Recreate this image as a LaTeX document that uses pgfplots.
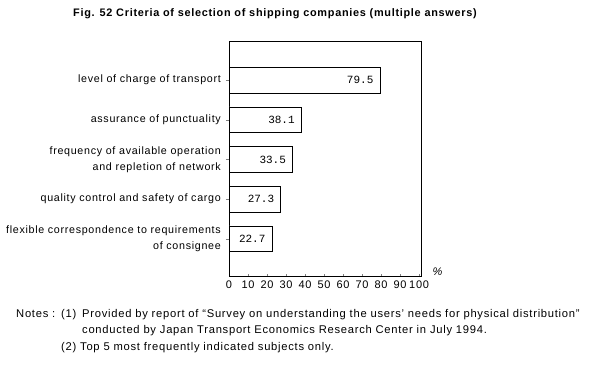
\documentclass[border=0pt]{standalone}
\usepackage{fontspec}
\setmainfont{Liberation Sans}[LetterSpace=6.5]
\setmonofont{Liberation Mono}
\usepackage{pgfplots}
\pgfplotsset{compat=1.18}
\begin{document}
\begin{tikzpicture}
\useasboundingbox (0pt,0pt) rectangle (591pt,364pt);
\node[anchor=west,inner sep=0pt,font=\fontsize{10.9}{13}\selectfont\bfseries] at (73pt,350pt) {Fig. 52 Criteria of selection of shipping companies (multiple answers)};
\begin{axis}[
  at={(229pt,87pt)}, anchor=south west,
  scale only axis, width=192pt, height=235pt,
  xbar, bar width=0.65,
  xmin=0, xmax=101, ymin=0.04, ymax=5.96,
  axis line style={line width=1pt},
  ytick={1,2,3,4,5},
  yticklabels={{flexible correspondence to requirements\\of consignee},
               {quality control and safety of cargo},
               {frequency of available operation\\and repletion of network},
               {assurance of punctuality},
               {level of charge of transport}},
  yticklabel style={align=right, font=\fontsize{10.7}{16}\selectfont, inner sep=0pt, xshift=-5pt},
  ytick pos=left, ytick align=outside, major tick length=3pt,
  xtick={0,10,...,100},
  xtick pos=bottom, xtick align=inside,
  xticklabel style={font=\fontsize{11}{12}\selectfont},
  /pgf/number format/assume math mode=true,
  point meta=x,
  nodes near coords,
  nodes near coords style={anchor=east, xshift=-3pt, font=\ttfamily\fontsize{11}{12}\selectfont,
    /pgf/number format/.cd, fixed, fixed zerofill, precision=1, assume math mode=true},
]
\addplot[draw=black, line width=0.8pt, fill=white] coordinates {(79.5,5) (38.1,4) (33.5,3) (27.3,2) (22.7,1)};
\end{axis}
\node[anchor=west,font=\fontsize{11}{12}\selectfont\itshape] at (429pt,92pt) {\%};
\begin{scope}[every node/.style={anchor=base west, inner sep=0pt, font=\fontsize{11.2}{12}\selectfont}]
\node at (16pt,47pt) {Notes :};
\node at (61pt,47pt) {(1)};
\node at (82pt,47pt) {Provided by report of ``Survey on understanding the users' needs for physical distribution''};
\node at (82pt,31pt) {conducted by Japan Transport Economics Research Center in July 1994.};
\node at (61pt,14pt) {(2) Top 5 most frequently indicated subjects only.};
\end{scope}
\end{tikzpicture}
\end{document}
